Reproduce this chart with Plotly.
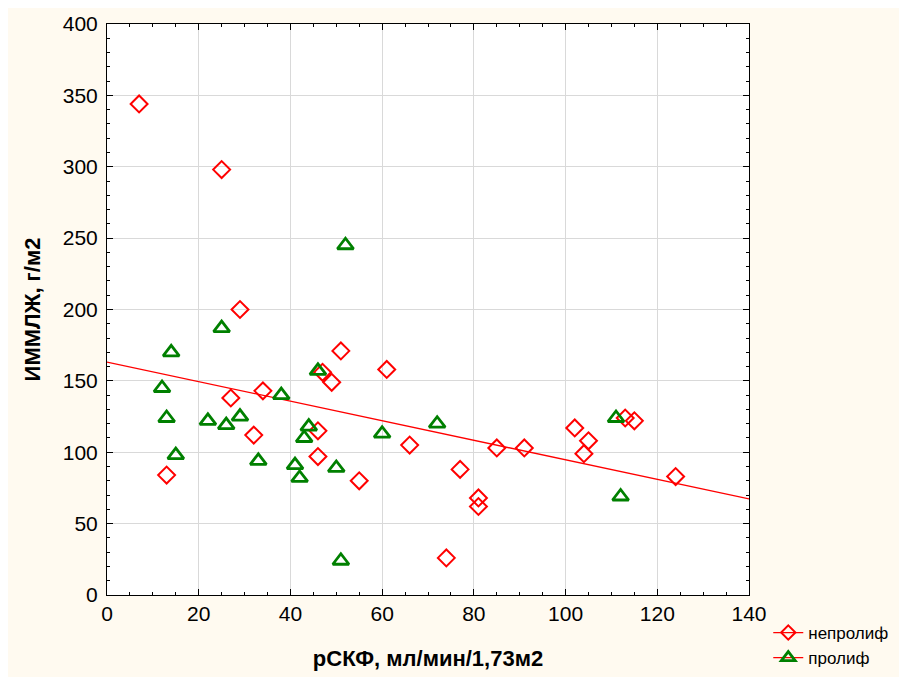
import plotly.graph_objects as go

# Data
nonprolif_x = [7, 25, 29, 27, 34, 32, 13, 46, 46, 47, 49, 51, 55, 61, 66, 74, 77, 81, 81, 85, 91, 102, 104, 105, 113, 115, 124]
nonprolif_y = [344, 298, 200, 138, 143, 112, 84, 97, 115, 156, 149, 171, 80, 158, 105, 26, 88, 68, 62, 103, 103, 117, 99, 108, 124, 122, 83]

prolif_x = [12, 13, 14, 15, 22, 25, 26, 29, 33, 38, 41, 42, 43, 44, 46, 50, 52, 51, 60, 72, 111, 112]
prolif_y = [145, 124, 170, 98, 122, 187, 119, 125, 94, 140, 91, 82, 110, 118, 157, 89, 245, 24, 113, 120, 124, 69]

# Regression line (intercept, slope)
reg_x = [0, 140]
reg_intercept = 163.2
reg_slope = -0.685

legend_names = ["непролиф", "пролиф"]

reg_y = [reg_intercept + reg_slope * v for v in reg_x]

RED = "#FF0000"
GREEN = "#008000"
FONT = "Liberation Sans, Arial, sans-serif"

fig = go.Figure()

fig.add_trace(go.Scatter(x=reg_x, y=reg_y, mode="lines",
                         line=dict(color=RED, width=1.3), showlegend=False,
                         hoverinfo="skip"))

fig.add_trace(go.Scatter(x=nonprolif_x, y=nonprolif_y, mode="markers",
                         marker=dict(symbol="diamond-open", size=13, color=RED,
                                     line=dict(width=2, color=RED)),
                         showlegend=False))
fig.add_trace(go.Scatter(x=prolif_x, y=prolif_y, mode="markers",
                         marker=dict(symbol="triangle-up-open", size=14, color=GREEN,
                                     line=dict(width=2.8, color=GREEN)),
                         showlegend=False))

# legend entries
fig.add_trace(go.Scatter(x=[None], y=[None], mode="lines+markers", name=legend_names[0],
                         line=dict(color=RED, width=1.3),
                         marker=dict(symbol="diamond-open", size=11, color=RED,
                                     line=dict(width=2, color=RED))))
fig.add_trace(go.Scatter(x=[None], y=[None], mode="lines+markers", name=legend_names[1],
                         line=dict(color=RED, width=1.3),
                         marker=dict(symbol="triangle-up-open", size=12, color=GREEN,
                                     line=dict(width=2.8, color=GREEN))))

axis_common = dict(
    showgrid=True, gridcolor="#d9d9d9", gridwidth=1,
    showline=True, linecolor="black", linewidth=1, mirror="ticks",
    ticks="inside", ticklen=6, tickcolor="black",
    tickfont=dict(family=FONT, size=21, color="black"),
    zeroline=False,
)

fig.update_layout(
    width=899, height=669,
    paper_bgcolor="#FFFAF0", plot_bgcolor="white",
    margin=dict(l=99, r=158, t=16, b=82, autoexpand=False),
    font=dict(family=FONT, color="black"),
    xaxis=dict(range=[0, 140], dtick=20,
               minor=dict(dtick=5, ticks="inside", ticklen=3, tickcolor="black", showgrid=False),
               title=dict(text="<b>рСКФ, мл/мин/1,73м2</b>", font=dict(family=FONT, size=22), standoff=26),
               **axis_common),
    yaxis=dict(range=[0, 400], dtick=50,
               minor=dict(dtick=10, ticks="inside", ticklen=3, tickcolor="black", showgrid=False),
               title=dict(text="<b>ИММЛЖ, г/м2</b>", font=dict(family=FONT, size=22), standoff=16),
               ticklabelstandoff=4,
               **axis_common),
    legend=dict(x=1.03, y=-0.035, xanchor="left", yanchor="top",
                bgcolor="rgba(0,0,0,0)", font=dict(family=FONT, size=17),
                itemwidth=30, tracegroupgap=0),
)

fig.write_html("out.html")
